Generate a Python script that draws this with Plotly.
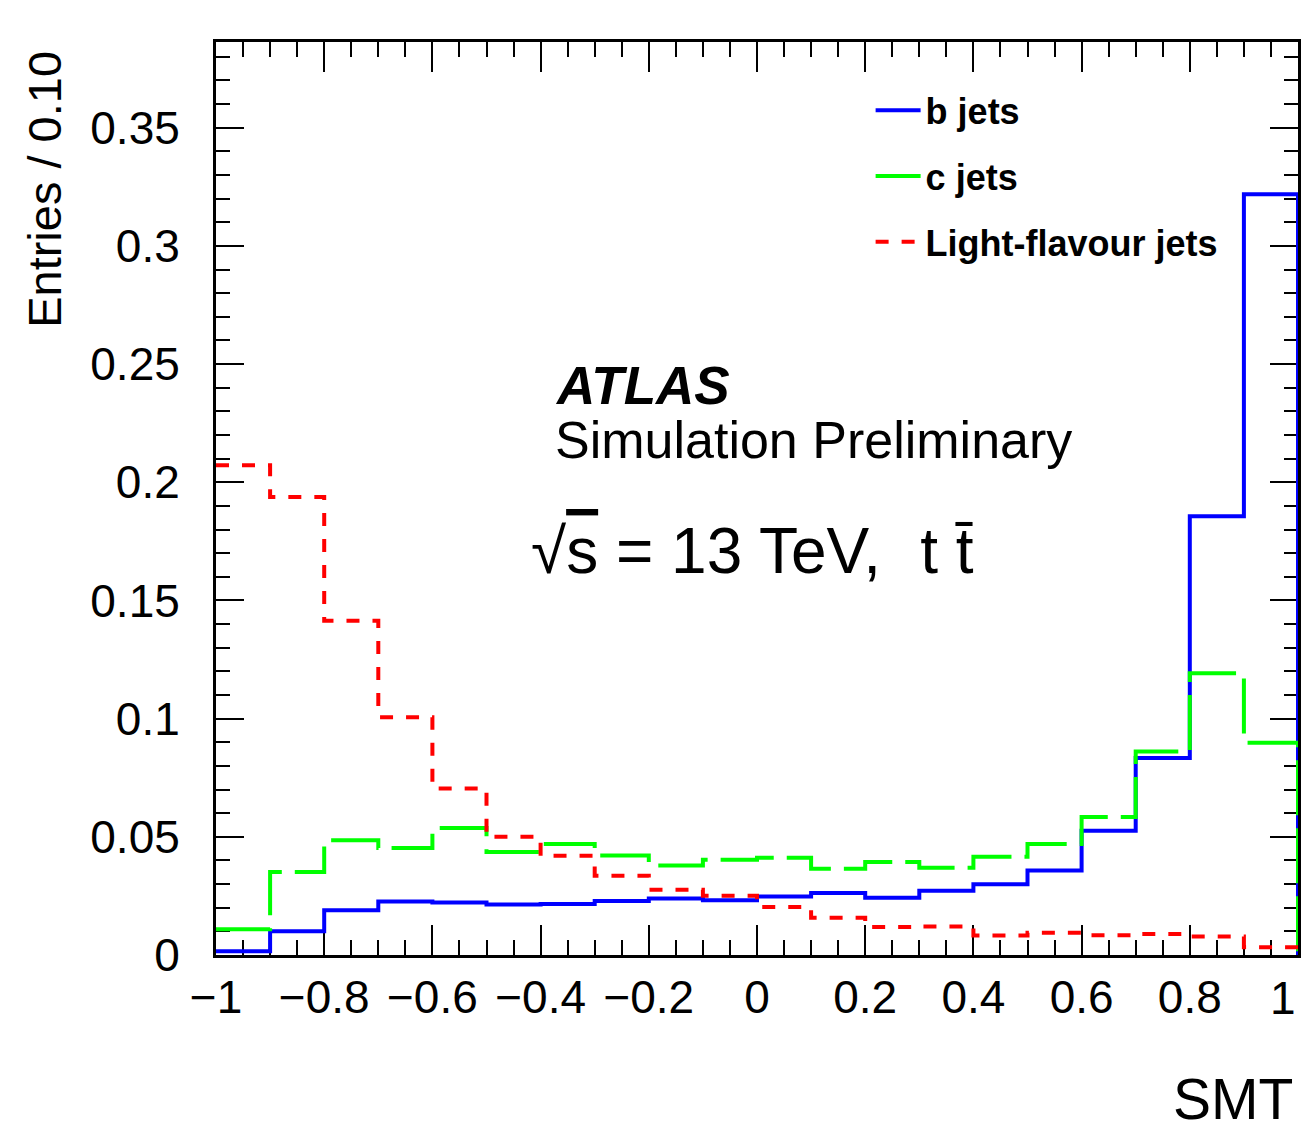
import plotly.graph_objects as go

# ---------------- data ----------------
bin_edges = [round(-1.0 + 0.1 * i, 1) for i in range(21)]
b_jets = [0.0016, 0.0101, 0.0189, 0.0226, 0.0222, 0.0214, 0.0216, 0.0228, 0.0239, 0.0232,
          0.0248, 0.0262, 0.0242, 0.0272, 0.0299, 0.0358, 0.0526, 0.0834, 0.1856, 0.3219]
c_jets = [0.0109, 0.0351, 0.0485, 0.0453, 0.0537, 0.0436, 0.0470, 0.0421, 0.0379, 0.0403,
          0.0411, 0.0365, 0.0393, 0.0369, 0.0416, 0.0470, 0.0584, 0.0861, 0.1192, 0.0898]
light_jets = [0.2072, 0.1938, 0.1414, 0.1006, 0.0704, 0.0500, 0.0420, 0.0335, 0.0276, 0.0251,
              0.0203, 0.0158, 0.0118, 0.0121, 0.0083, 0.0094, 0.0084, 0.0089, 0.0078, 0.0033]
series_names = ["b jets", "c jets", "Light-flavour jets"]
y_tick_values = [0, 0.05, 0.1, 0.15, 0.2, 0.25, 0.3, 0.35]
x_tick_values = [-1, -0.8, -0.6, -0.4, -0.2, 0, 0.2, 0.4, 0.6, 0.8]
x_tick_labels = ["\u22121", "\u22120.8", "\u22120.6", "\u22120.4", "\u22120.2", "0",
                 "0.2", "0.4", "0.6", "0.8"]
x_last_tick = 1
x_last_label = "1"

FONT = "Liberation Sans, Arial, Helvetica, sans-serif"


def hist_outline(edges, values):
    # step outline: start at first bin value, finish by dropping to zero at last edge
    xs = list(edges) + [edges[-1]]
    ys = list(values) + [values[-1], 0]
    return xs, ys


fig = go.Figure()
styles = [
    ("#0000ff", "solid"),
    ("#00ff00", "55px,13px"),
    ("#ff0000", "13px,13px"),
]
for name, vals, (col, dash) in zip(series_names, [b_jets, c_jets, light_jets], styles):
    xs, ys = hist_outline(bin_edges, vals)
    fig.add_trace(go.Scatter(
        x=xs, y=ys, mode="lines", name=name, legendgroup=name,
        line=dict(color=col, width=4, dash=dash, shape="hv"),
        hoverinfo="skip",
    ))

y_max = 1.2 * max(b_jets)

axis_common = dict(
    showline=True, linecolor="black", linewidth=3, mirror="allticks",
    ticks="inside", tickcolor="black", tickwidth=2,
    showgrid=False, zeroline=False, automargin=False,
    tickfont=dict(family=FONT, size=46, color="black"),
    layer="below traces",
)

fig.update_xaxes(
    range=[-1, 1], tickvals=x_tick_values, ticktext=x_tick_labels, ticklen=30,
    minor=dict(dtick=0.05, tick0=-1, ticklen=15, tickwidth=2, tickcolor="black", ticks="inside"),
    **axis_common,
)
fig.update_yaxes(
    range=[0, y_max], tickvals=y_tick_values, ticklen=28,
    minor=dict(dtick=0.01, tick0=0, ticklen=14, tickwidth=2, tickcolor="black", ticks="inside"),
    ticklabelstandoff=24,
    **axis_common,
)

annotations = [
    dict(text=x_last_label, xref="x", yref="paper", x=x_last_tick, y=-0.0471,
         xanchor="right", yanchor="middle", showarrow=False,
         font=dict(family=FONT, size=46, color="black")),
    dict(text="Entries / 0.10", xref="paper", yref="paper", x=-0.158, y=0.992,
         xanchor="center", yanchor="top", textangle=-90, showarrow=False,
         font=dict(family=FONT, size=47, color="black")),
    dict(text="SMT", xref="paper", yref="paper", x=0.9975, y=-0.1945,
         xanchor="right", yanchor="bottom", showarrow=False,
         font=dict(family=FONT, size=57, color="black")),
    dict(text="<b><i>ATLAS</i></b>", xref="paper", yref="paper", x=0.3115, y=0.624,
         xanchor="left", yanchor="middle", showarrow=False,
         font=dict(family=FONT, size=53, color="black")),
    dict(text="Simulation Preliminary", xref="paper", yref="paper", x=0.3115, y=0.564,
         xanchor="left", yanchor="middle", showarrow=False,
         font=dict(family=FONT, size=52, color="black")),
    dict(text="√<span style='text-decoration:overline'>s</span> = 13 TeV,\u2004 t t\u0304",
         xref="paper", yref="paper", x=0.2890, y=0.442,
         xanchor="left", yanchor="middle", showarrow=False,
         font=dict(family=FONT, size=64, color="black")),
]

fig.update_layout(
    width=1306, height=1134,
    margin=dict(l=216, r=8, t=42, b=179, pad=0, autoexpand=False),
    paper_bgcolor="white", plot_bgcolor="white",
    font=dict(family=FONT, color="black"),
    showlegend=True,
    legend=dict(
        x=0.605, y=0.958, xanchor="left", yanchor="top",
        bgcolor="rgba(0,0,0,0)", borderwidth=0,
        font=dict(family=FONT, size=36, color="black", weight="bold"),
        itemwidth=45, tracegroupgap=16, traceorder="grouped",
    ),
    annotations=annotations,
)

fig.write_html("out.html")
